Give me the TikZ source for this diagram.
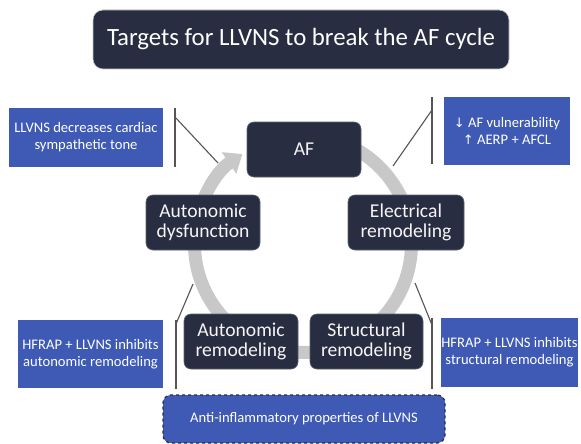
\documentclass[tikz,border=0pt]{standalone}
\usepackage{fontspec}
\setmainfont{Carlito}
\newfontfamily\symfont{DejaVu Sans}
\usetikzlibrary{arrows.meta}
\definecolor{navy}{RGB}{41,45,66}
\definecolor{bluebox}{RGB}{62,90,180}
\definecolor{ringgray}{RGB}{200,200,200}
\definecolor{linegray}{RGB}{85,85,85}
\begin{document}
\begin{tikzpicture}[x=1pt,y=-1pt,
  stage/.style={rounded corners=7pt, fill=navy, draw=navy!75!white, line width=0.6pt,
    text=white!92!gray, align=center, font=\fontsize{19.6}{20.5}\selectfont, inner sep=0pt,
    minimum height=55pt},
  note/.style={fill=bluebox, text=white, align=center,
    font=\fontsize{14.6}{17}\selectfont, inner sep=0pt},
  bracket/.style={draw=linegray, line width=1.1pt}]
\useasboundingbox (0,0) rectangle (581,444);
\fill[white] (0,0) rectangle (581,444);

% cycle ring
\draw[ringgray, line width=13pt, -{Triangle[width=25pt,length=16pt]}]
  (303,244) ++(-85:108.5) arc[start angle=-85, end angle=236, radius=108.5];

% title
\node[rounded corners=10pt, fill=navy, draw=gray!45, line width=0.6pt, text=white,
  minimum width=416pt, minimum height=59pt, inner sep=0pt,
  font=\fontsize{24.8}{28}\selectfont] (title) at (301,39.5)
  {Targets for LLVNS to break the AF cycle};

% stages
\node[stage, minimum width=114pt] (af) at (304,149.5) {AF};
\node[stage, minimum width=114pt] (ad) at (203,222.5) {Autonomic\\dysfunction};
\node[stage, minimum width=116pt] (er) at (406,222.5) {Electrical\\remodeling};
\node[stage, minimum width=114pt] (ar) at (241,341.5) {Autonomic\\remodeling};
\node[stage, minimum width=113pt] (sr) at (366.5,341.5) {Structural\\remodeling};

% notes
\node[note, minimum width=154pt, minimum height=59pt] (tl) at (86,137.5)
  {LLVNS decreases cardiac\\sympathetic tone};
\node[note, minimum width=126pt, minimum height=68pt] (tr) at (507,131)
  {{\symfont\fontsize{13}{17}\selectfont ↓} AF vulnerability\\{\symfont\fontsize{13}{17}\selectfont ↑} AERP + AFCL};
\node[note, minimum width=145pt, minimum height=68pt] (bl) at (90.5,354)
  {HFRAP + LLVNS inhibits\\autonomic remodeling};
\node[note, minimum width=131pt, minimum height=69pt] (br) at (509.5,352.5)
  {HFRAP + LLVNS inhibits\\structural remodeling};
\node[note, rounded corners=8pt, draw=navy, dashed, line width=1.3pt,
  minimum width=282pt, minimum height=48pt] (anti) at (304,419)
  {Anti-inflammatory properties of LLVNS};

% brackets
\coordinate (tlA) at (175,108); \coordinate (tlB) at (175,167);
\coordinate (tlK) at (175,117); \coordinate (tlR) at (218,163);
\coordinate (trA) at (432,97);  \coordinate (trB) at (432,164);
\coordinate (trK) at (432,110); \coordinate (trR) at (393,166);
\coordinate (blA) at (176,320); \coordinate (blB) at (176,389);
\coordinate (blK) at (176,324); \coordinate (blR) at (193,284);
\coordinate (brA) at (432,318); \coordinate (brB) at (432,389);
\coordinate (brK) at (432,325); \coordinate (brR) at (415,283);

\draw[bracket] (tlA) -- (tlB);
\draw[bracket] (tlK) -- (tlR);
\draw[bracket] (trA) -- (trB);
\draw[bracket] (trK) -- (trR);
\draw[bracket] (blA) -- (blB);
\draw[bracket] (blK) -- (blR);
\draw[bracket] (brA) -- (brB);
\draw[bracket] (brK) -- (brR);
\end{tikzpicture}
\end{document}
